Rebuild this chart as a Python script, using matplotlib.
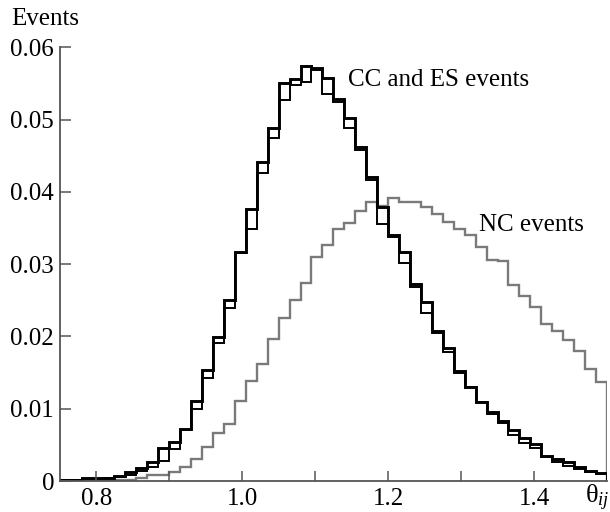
import numpy as np
import matplotlib
matplotlib.use("Agg")
import matplotlib.pyplot as plt
from matplotlib.ticker import FixedLocator

plt.rcParams['font.family'] = ['Liberation Serif', 'DejaVu Serif']
plt.rcParams['mathtext.fontset'] = 'custom'
plt.rcParams['mathtext.rm'] = 'Liberation Serif'
plt.rcParams['mathtext.it'] = 'Liberation Serif:italic'

# ---- data ----
bin_edges = np.round(np.arange(0.75, 1.5001, 0.015), 3)

cc_a = [0.0001, 0.0001, 0.0004, 0.0004, 0.0004, 0.0007, 0.0012, 0.0018, 0.0027, 0.0045,
        0.0054, 0.0072, 0.0111, 0.0153, 0.0199, 0.0250, 0.0317, 0.0377, 0.0442, 0.0489,
        0.0550, 0.0556, 0.0574, 0.0571, 0.0557, 0.0529, 0.0502, 0.0462, 0.0421, 0.0379,
        0.0340, 0.0317, 0.0272, 0.0248, 0.0208, 0.0184, 0.0152, 0.0130, 0.0110, 0.0096,
        0.0083, 0.0071, 0.0059, 0.0051, 0.0035, 0.0031, 0.0027, 0.0020, 0.0014, 0.0011]

cc_b = [0.0001, 0.0001, 0.0003, 0.0003, 0.0004, 0.0005, 0.0009, 0.0014, 0.0019, 0.0028,
        0.0044, 0.0071, 0.0099, 0.0143, 0.0191, 0.0239, 0.0316, 0.0349, 0.0426, 0.0474,
        0.0527, 0.0548, 0.0552, 0.0568, 0.0536, 0.0525, 0.0488, 0.0458, 0.0416, 0.0356,
        0.0337, 0.0302, 0.0268, 0.0233, 0.0205, 0.0178, 0.0150, 0.0130, 0.0110, 0.0093,
        0.0080, 0.0064, 0.0053, 0.0045, 0.0033, 0.0027, 0.0021, 0.0016, 0.0013, 0.0010]

nc = [0.00005, 0.00005, 0.00005, 0.00005, 0.00008, 0.00014, 0.00014, 0.00037, 0.00083, 0.00083,
      0.0013, 0.0020, 0.0031, 0.0047, 0.0066, 0.0079, 0.0111, 0.0139, 0.0162, 0.0197,
      0.0225, 0.0251, 0.0274, 0.0310, 0.0327, 0.0348, 0.0357, 0.0373, 0.0386, 0.0380,
      0.0392, 0.0386, 0.0386, 0.0379, 0.0370, 0.0359, 0.0348, 0.0340, 0.0324, 0.0306,
      0.0305, 0.0271, 0.0256, 0.0241, 0.0217, 0.0207, 0.0195, 0.0180, 0.0155, 0.0137]

x_major = [0.8, 1.0, 1.2, 1.4]
x_major_labels = ["0.8", "1.0", "1.2", "1.4"]
x_minor = [0.9, 1.1, 1.3]
y_ticks = [0, 0.01, 0.02, 0.03, 0.04, 0.05, 0.06]
y_tick_labels = ["0", "0.01", "0.02", "0.03", "0.04", "0.05", "0.06"]

# ---- figure ----
fig = plt.figure(figsize=(6.10, 5.12), dpi=100)
ax = fig.add_axes([0.098, 0.0605, 0.897, 0.847])

spine_col = '#555555'
ax.stairs(nc, bin_edges, color='#7a7a7a', linewidth=1.7)
ax.stairs(cc_b, bin_edges, color='black', linewidth=1.4)
ax.stairs(cc_a, bin_edges, color='black', linewidth=2.1)

ax.set_xlim(0.75, 1.5)
ax.set_ylim(0, 0.06)

for s in ['top', 'right']:
    ax.spines[s].set_visible(False)
for s in ['left', 'bottom']:
    ax.spines[s].set_color(spine_col)
    ax.spines[s].set_linewidth(1.3)

ax.xaxis.set_major_locator(FixedLocator(x_major))
ax.set_xticklabels(x_major_labels)
ax.xaxis.set_minor_locator(FixedLocator(x_minor))
ax.set_yticks(y_ticks)
ax.set_yticklabels(y_tick_labels)

ax.tick_params(axis='both', which='both', direction='in', color=spine_col, width=1.1,
               labelsize=18, labelcolor='black')
ax.tick_params(axis='x', which='both', length=7, pad=5)
ax.tick_params(axis='y', which='both', length=8, pad=4)

ax.text(1.145, 0.0555, "CC and ES events", fontsize=18, ha='left', va='center')
ax.text(1.325, 0.0354, "NC events", fontsize=18, ha='left', va='center')

fig.text(0.018, 0.962, "Events", fontsize=18, ha='left', va='center')
fig.text(0.999, 0.028, "θ$_{ij}$", fontsize=19, ha='right', va='center')

fig.savefig("out.png", dpi=100)
